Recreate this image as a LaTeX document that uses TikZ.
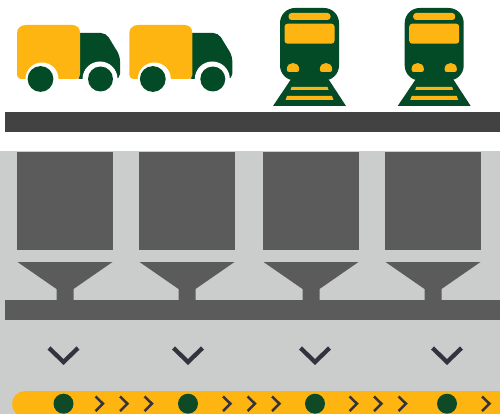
\documentclass[tikz,border=0pt]{standalone}
\definecolor{amber}{HTML}{FFB511}
\definecolor{forest}{HTML}{034B27}
\definecolor{belt}{HTML}{0E4A25}
\definecolor{panel}{HTML}{CBCDCC}
\definecolor{steel}{HTML}{5B5B5B}
\definecolor{deck}{HTML}{424242}
\definecolor{ink}{HTML}{33333F}
\tikzset{
  x=1pt,y=-1pt,
  bin/.style={fill=steel},
  bigchev/.style={draw=ink,line width=4.3pt,miter limit=10},
  smallchev/.style={draw=ink,line width=2.5pt},
  truck/.pic={
    \fill[forest,rounded corners=5pt] (75,33) -- (106,33) -- (120,56) -- (120,79) -- (75,79) -- cycle;
    \fill[amber] (17,33) .. controls (17,28) and (21,25) .. (26,25) -- (72,25) .. controls (77,25) and (80,28) .. (80,33) -- (80,75) .. controls (80,78) and (78,79) .. (76,79) -- (21,79) .. controls (19,79) and (17,77) .. (17,75) -- cycle;
    \fill[white] (42,79) circle[radius=16.5];
    \fill[white] (100,79) circle[radius=17.5];
    \fill[white] (20,79) rectangle (120,95);
    \fill[forest] (40.5,79) circle[radius=12.9];
    \fill[forest] (100.5,79) circle[radius=12.5];
  },
  train/.pic={
    \fill[forest] (-19,80) -- (19.5,80) -- (36.5,106) -- (-36.5,106) -- cycle;
    \fill[forest,rounded corners=15pt] (-29.5,8) rectangle (29.5,80.5);
    \fill[amber,rounded corners=3pt] (-21,13) rectangle (21,20);
    \fill[amber,rounded corners=3pt] (-25,23.7) rectangle (25,43.7);
    \fill[amber] (-22.7,69.5) .. controls (-22.7,65) and (-19.5,63) .. (-16.5,63) .. controls (-13.5,63) and (-10.3,65) .. (-10.3,69.5) .. controls (-10.3,71.5) and (-11.5,72) .. (-13,72) -- (-20,72) .. controls (-21.5,72) and (-22.7,71.5) .. (-22.7,69.5) -- cycle;
    \fill[amber] (10.3,69.5) .. controls (10.3,65) and (13.5,63) .. (16.5,63) .. controls (19.5,63) and (22.7,65) .. (22.7,69.5) .. controls (22.7,71.5) and (21.5,72) .. (20,72) -- (13,72) .. controls (11.5,72) and (10.3,71.5) .. (10.3,69.5) -- cycle;
    \fill[amber] (-18,87) -- (18,87) -- (19,90) -- (-19,90) -- cycle;
    \fill[amber] (-22.5,96) -- (22.5,96) -- (24,100) -- (-24,100) -- cycle;
  }
}
\begin{document}
\begin{tikzpicture}
\useasboundingbox (0,0) rectangle (500,414);
\fill[white] (0,0) rectangle (500,414);
% vehicles
\pic at (0,0) {truck};
\pic at (112.3,0) {truck};
\pic at (309.5,0) {train};
\pic at (434.2,0) {train};
% loading deck
\fill[deck] (5,112) rectangle (500,132);
% plant
\fill[panel] (0,151.5) rectangle (500,414);
\foreach \x in {65,187,311,433}{
  \fill[bin] (\x-48,152) rectangle (\x+48,250);
  \fill[bin] (\x-47.5,262) -- (\x+47.5,262) -- (\x+8.5,289) -- (\x+8.5,310) -- (\x-8.5,310) -- (\x-8.5,289) -- cycle;
}
\fill[bin] (5,300) rectangle (500,320);
\foreach \x in {63.5,188,315,447}{
  \draw[bigchev] (\x-14.5,348) -- (\x,362) -- (\x+14.5,348);
}
% belt
\begin{scope}
\clip (0,0) rectangle (500,414);
\fill[amber,rounded corners=13pt] (12,391) rectangle (530,417);
\foreach \x in {63.5,188,315,447}{
  \fill[belt] (\x,403.7) circle[radius=10];
}
\foreach \x in {103,127.5,152,230.5,255,279.5,357,381.5,406,489.5}{
  \draw[smallchev] (\x-7.5,396.5) -- (\x,403.7) -- (\x-7.5,411);
}
\end{scope}
\end{tikzpicture}
\end{document}
